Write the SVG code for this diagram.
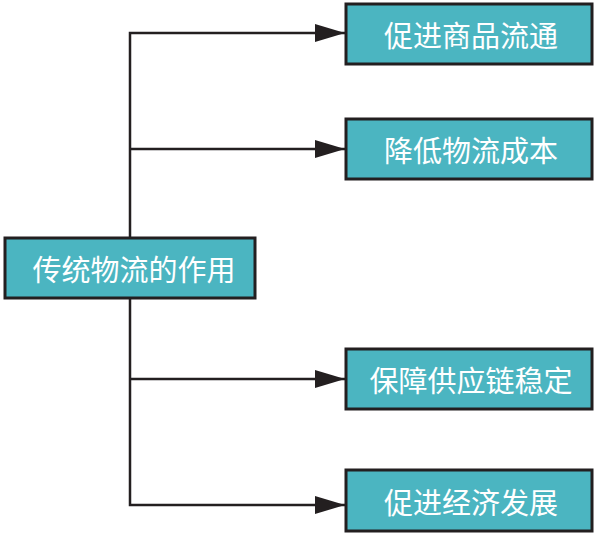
<svg xmlns="http://www.w3.org/2000/svg" width="597" height="533" viewBox="0 0 597 533">
<style>
.box{fill:#4bb5c1;stroke:#231f20;stroke-width:3}
.lbl{font-family:"Noto Sans CJK SC","Noto Sans CJK TC",sans-serif;font-size:29px;fill:#ffffff;text-anchor:middle;dominant-baseline:central}
.ln{fill:none;stroke:#231f20;stroke-width:2.5}
</style>
<defs>
<marker id="arr" markerUnits="userSpaceOnUse" markerWidth="32" markerHeight="18" refX="30" refY="9" orient="auto">
<path d="M0,0 L30,9 L0,18 Z" fill="#231f20"/>
</marker>
</defs>
<g id="connectors">
<path class="ln" d="M130,237 V33 H345" marker-end="url(#arr)"/>
<path class="ln" d="M130,149 H345" marker-end="url(#arr)"/>
<path class="ln" d="M130,298 V505 H345" marker-end="url(#arr)"/>
<path class="ln" d="M130,379 H345" marker-end="url(#arr)"/>
</g>
<g id="root">
<rect class="box" x="5" y="238" width="250" height="60"/>
<text class="lbl" x="134" y="268">传统物流的作用</text>
</g>
<g id="n1">
<rect class="box" x="346" y="4" width="246" height="60"/>
<text class="lbl" x="471" y="34">促进商品流通</text>
</g>
<g id="n2">
<rect class="box" x="346" y="119" width="246" height="60"/>
<text class="lbl" x="471" y="149">降低物流成本</text>
</g>
<g id="n3">
<rect class="box" x="346" y="349" width="246" height="60"/>
<text class="lbl" x="471" y="379">保障供应链稳定</text>
</g>
<g id="n4">
<rect class="box" x="346" y="470" width="246" height="61"/>
<text class="lbl" x="471" y="501">促进经济发展</text>
</g>
</svg>
